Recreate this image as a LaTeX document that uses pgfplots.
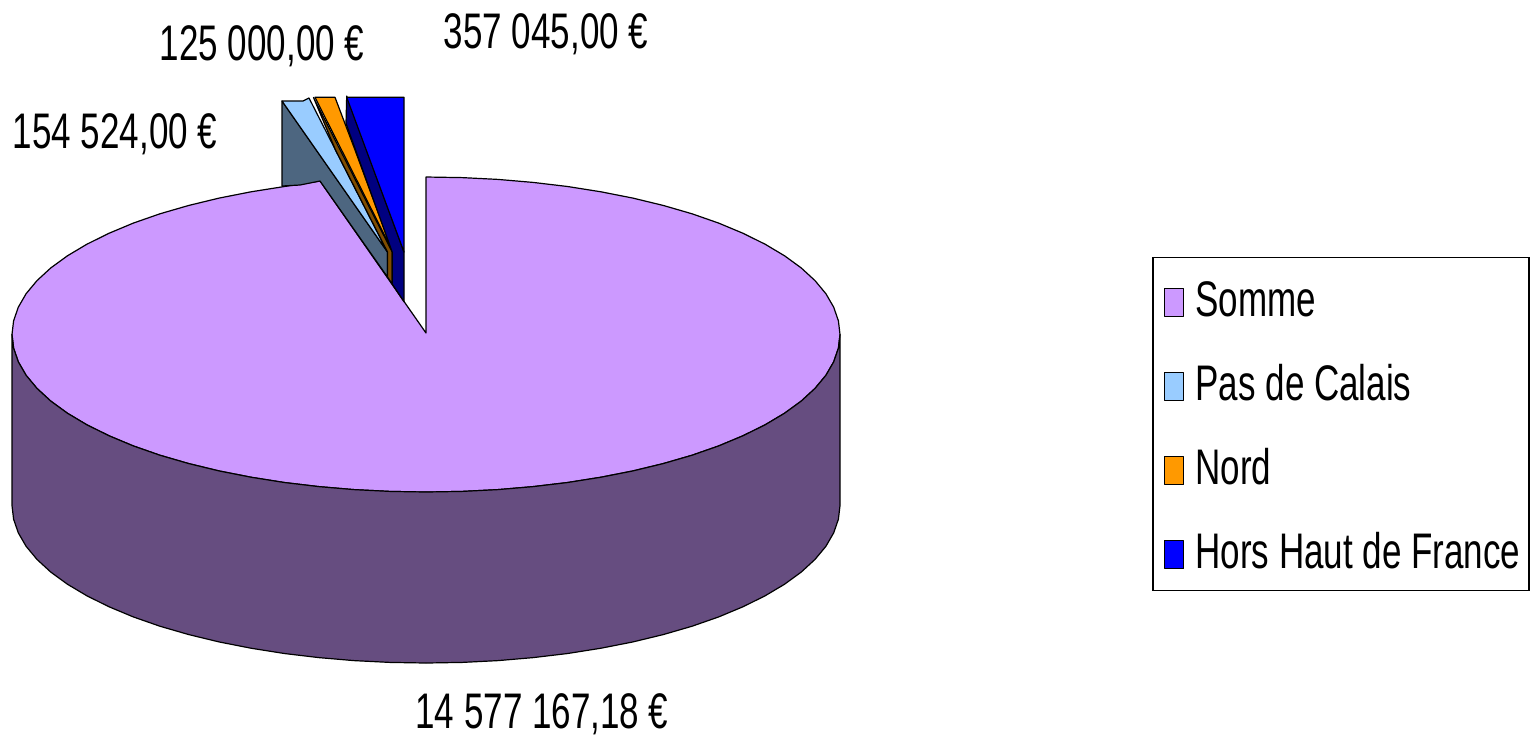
\documentclass[border=0pt]{standalone}
\usepackage{pgfplots}
\usepackage{fontspec}
\setmainfont[FakeStretch=0.7]{Liberation Sans}
\pgfplotsset{compat=1.18}
\definecolor{somme}{HTML}{CC99FF}
\definecolor{sommeS}{HTML}{664D80}
\definecolor{pas}{HTML}{99CCFF}
\definecolor{pasS}{HTML}{4D6680}
\definecolor{nord}{HTML}{FF9900}
\definecolor{nordS}{HTML}{804D00}
\definecolor{hors}{HTML}{0000FF}
\definecolor{horsS}{HTML}{000080}
\newcommand{\lab}{\fontsize{25}{30}\selectfont}
\begin{document}
\begin{tikzpicture}
\path (0,0) rectangle (768pt,368pt);
\begin{axis}[
  at={(0,0)}, anchor=south west,
  scale only axis, width=768pt, height=368pt,
  xmin=0, xmax=1536, ymin=0, ymax=736, y dir=reverse,
  hide axis, clip=false, no markers,
  every axis plot/.append style={draw=black, line width=0.6pt, line join=round},
  legend cell align=left,
  legend image code/.code={\path[draw=none,fill=none] (0pt,0pt) -- (17pt,0pt);\draw[#1,line width=0.5pt] (4.5pt,-9.5pt) rectangle (14pt,4.5pt);},
  legend style={
    at={(rel axis cs:0.7503,0.197)}, anchor=south west,
    draw=black, line width=0.6pt, inner xsep=1.25pt, inner ysep=10.5pt,
    row sep=22.85pt, font=\lab,
    nodes={text height=19pt, text depth=0pt, inner xsep=3pt, inner ysep=0pt},
  },
]
\addplot[fill=somme] coordinates {
(426,333) (426,177) (462.1,177.6) (498,179.4) (533.1,182.4) (567.6,186.5) (601,191.8) (633,198.1) (663.5,205.5)
(692.1,213.8) (718.7,223.1) (743.1,233.3) (765.1,244.2) (784.5,255.75) (801.2,267.9) (815,280.6) (825.9,293.7)
(833.7,307.2) (838.4,320.8) (840,334.5) (838.4,348.2) (833.7,361.8) (825.9,375.3) (815,388.4) (801.2,401.1)
(784.5,413.25) (765.1,424.8) (743.1,435.7) (718.7,445.9) (692.1,455.2) (663.5,463.5) (633,470.9) (601,477.2)
(567.6,482.5) (533.1,486.6) (498,489.6) (462.1,491.4) (426,492) (389.9,491.4) (354,489.6) (318.9,486.6)
(284.4,482.5) (251,477.2) (219,470.9) (188.5,463.5) (159.9,455.2) (133.3,445.9) (108.9,435.7) (86.9,424.8)
(67.5,413.25) (50.8,401.1) (37,388.4) (26.1,375.3) (18.3,361.8) (13.6,348.2) (12,334.5) (13.6,320.8)
(18.3,307.2) (26.1,293.7) (37,280.6) (50.8,267.9) (67.5,255.75) (86.9,244.2) (108.9,233.3) (133.3,223.1)
(159.9,213.8) (188.5,205.5) (219,198.1) (251,191.8) (284.4,186.5) (320,181) (426,333)
} --cycle;
\addlegendentry{Somme}
\addplot[fill=sommeS, forget plot] coordinates {
(12,334.5) (13.6,348.2) (18.3,361.8) (26.1,375.3) (37,388.4) (50.8,401.1) (67.5,413.25) (86.9,424.8) (108.9,435.7)
(133.3,445.9) (159.9,455.2) (188.5,463.5) (219,470.9) (251,477.2) (284.4,482.5) (318.9,486.6) (354,489.6)
(389.9,491.4) (426,492) (462.1,491.4) (498,489.6) (533.1,486.6) (567.6,482.5) (601,477.2) (633,470.9) (663.5,463.5)
(692.1,455.2) (718.7,445.9) (743.1,435.7) (765.1,424.8) (784.5,413.25) (801.2,401.1) (815,388.4) (825.9,375.3)
(833.7,361.8) (838.4,348.2) (840,334.5)
(840,505.5) (838.4,519.2) (833.7,532.8) (825.9,546.3) (815,559.4) (801.2,572.1) (784.5,584.25) (765.1,595.8)
(743.1,606.7) (718.7,616.9) (692.1,626.2) (663.5,634.5) (633,641.9) (601,648.2) (567.6,653.5) (533.1,657.6)
(498,660.6) (462.1,662.4) (426,663) (389.9,662.4) (354,660.6) (318.9,657.6) (284.4,653.5) (251,648.2) (219,641.9)
(188.5,634.5) (159.9,626.2) (133.3,616.9) (108.9,606.7) (86.9,595.8) (67.5,584.25) (50.8,572.1) (37,559.4)
(26.1,546.3) (18.3,532.8) (13.6,519.2) (12,505.5)
} --cycle;
\addplot[fill=pasS, forget plot] coordinates {(282,101) (387.5,252) (387.5,277) (320,181) (300,185) (282,186)} --cycle;
\addplot[fill=pas] coordinates {(282,101) (303,101) (309,98) (387.5,252)} --cycle;
\addlegendentry{Pas de Calais}
\addplot[fill=nordS, forget plot] coordinates {(313.5,97.5) (335.5,150) (387.5,252) (387.5,277) (392.2,284) (392.2,252)} --cycle;
\addplot[fill=nord] coordinates {(315,97.3) (335,97.3) (355,150) (392,250)} --cycle;
\addlegendentry{Nord}
\addplot[fill=horsS, forget plot] coordinates {(346.7,96) (346,123.3) (392.2,252) (392.2,284) (404,301.7) (404,252)} --cycle;
\addplot[fill=hors] coordinates {(346.7,97.3) (404,97.3) (404,252)} --cycle;
\addlegendentry{Hors Haut de France}
\node[font=\lab, inner sep=0pt] at (axis cs:262,46) {125 000,00 €};
\node[font=\lab, inner sep=0pt] at (axis cs:546,34) {357 045,00 €};
\node[font=\lab, inner sep=0pt] at (axis cs:115,134) {154 524,00 €};
\node[font=\lab, inner sep=0pt] at (axis cs:542,714) {14 577 167,18 €};
\end{axis}
\end{tikzpicture}
\end{document}
